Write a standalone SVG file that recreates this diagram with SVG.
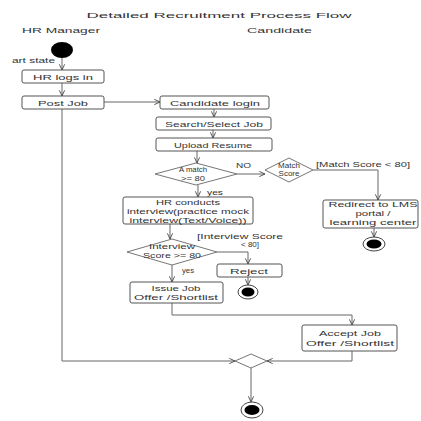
<svg xmlns="http://www.w3.org/2000/svg" width="421" height="421" viewBox="0 0 421 421">
<defs>
<marker id="arr" viewBox="0 0 8 8" refX="7.5" refY="4" markerWidth="7" markerHeight="7" orient="auto" markerUnits="userSpaceOnUse">
<path d="M1,1 L7.5,4 L1,7" fill="none" stroke="#444" stroke-width="1"/>
</marker>
</defs>
<style>
.box{fill:#fff;stroke:#555;stroke-width:1}
.dia{fill:#fff;stroke:#666;stroke-width:0.9}
.ln{fill:none;stroke:#666;stroke-width:1}
.t{font-family:"Liberation Sans",Arial,sans-serif;fill:#333;font-size:8px;text-anchor:middle}
.s{text-anchor:start}
.ring{fill:#fff;stroke:#444;stroke-width:1}
.dot{fill:#000}
</style>
<rect width="421" height="421" fill="#fff"/>
<text class="t" x="219" y="18" font-size="11" textLength="265" lengthAdjust="spacingAndGlyphs">Detailed Recruitment Process Flow</text>
<text class="t s" x="22" y="33" font-size="10" textLength="78" lengthAdjust="spacingAndGlyphs">HR Manager</text>
<text class="t s" x="247" y="33" font-size="9" fill="#555" textLength="65" lengthAdjust="spacingAndGlyphs">Candidate</text>

<g id="connectors">
<path class="ln" d="M62,58 V70" marker-end="url(#arr)"/>
<path class="ln" d="M62,83 V96" marker-end="url(#arr)"/>
<path class="ln" d="M104,102 H160" marker-end="url(#arr)"/>
<path class="ln" d="M62,109 V361 H235" marker-end="url(#arr)"/>
<path class="ln" d="M214,109 V117" marker-end="url(#arr)"/>
<path class="ln" d="M213,130 V138" marker-end="url(#arr)"/>
<path class="ln" d="M197,151 V163" marker-end="url(#arr)"/>
<path class="ln" d="M237,174 H265" marker-end="url(#arr)"/>
<path class="ln" d="M198,185 V197" marker-end="url(#arr)"/>
<path class="ln" d="M313,170 H378 V200" marker-end="url(#arr)"/>
<path class="ln" d="M374,228 V237" marker-end="url(#arr)"/>
<path class="ln" d="M170,224 V239" marker-end="url(#arr)"/>
<path class="ln" d="M217,252 H248 V264" marker-end="url(#arr)"/>
<path class="ln" d="M248,277 V285" marker-end="url(#arr)"/>
<path class="ln" d="M172,265 V282" marker-end="url(#arr)"/>
<path class="ln" d="M172,303 V315 H352 V325" marker-end="url(#arr)"/>
<path class="ln" d="M352,351 V361 H267" marker-end="url(#arr)"/>
<path class="ln" d="M251,368 V402" marker-end="url(#arr)"/>
</g>

<g id="start">
<ellipse class="dot" cx="62" cy="50" rx="11" ry="8"/>
<text class="t s" x="12" y="63" font-size="7.5" textLength="43" lengthAdjust="spacingAndGlyphs">art state</text>
</g>
<g id="hr-logs-in">
<rect class="box" x="22" y="70" width="82" height="13" rx="2"/>
<text class="t" x="63" y="80" textLength="60" lengthAdjust="spacingAndGlyphs">HR logs in</text>
</g>
<g id="post-job">
<rect class="box" x="22" y="96" width="82" height="13" rx="2"/>
<text class="t" x="63" y="106" textLength="50" lengthAdjust="spacingAndGlyphs">Post Job</text>
</g>
<g id="candidate-login">
<rect class="box" x="160" y="96" width="109" height="13" rx="2"/>
<text class="t" x="215" y="106" textLength="90" lengthAdjust="spacingAndGlyphs">Candidate login</text>
</g>
<g id="search-job">
<rect class="box" x="156" y="117" width="115" height="13" rx="2"/>
<text class="t" x="214" y="127" textLength="98" lengthAdjust="spacingAndGlyphs">Search/Select Job</text>
</g>
<g id="upload-resume">
<rect class="box" x="156" y="138" width="116" height="13" rx="2"/>
<text class="t" x="213" y="148" textLength="78" lengthAdjust="spacingAndGlyphs">Upload Resume</text>
</g>
<g id="match-decision">
<polygon class="dia" points="155,174 196,163 237,174 196,185"/>
<text class="t" x="193" y="172" font-size="7" textLength="28" lengthAdjust="spacingAndGlyphs">A match</text>
<text class="t" x="193" y="181" font-size="7" textLength="24" lengthAdjust="spacingAndGlyphs">&gt;= 80</text>
<text class="t s" x="236" y="168" textLength="15" lengthAdjust="spacingAndGlyphs">NO</text>
<text class="t s" x="207" y="195" textLength="16" lengthAdjust="spacingAndGlyphs">yes</text>
</g>
<g id="match-score">
<polygon class="dia" points="265,170 289,158 313,170 289,182"/>
<text class="t" x="289" y="168" font-size="6">Match</text>
<text class="t" x="289" y="176" font-size="6">Score</text>
<text class="t s" x="316" y="167" textLength="94" lengthAdjust="spacingAndGlyphs">[Match Score &lt; 80]</text>
</g>
<g id="redirect">
<rect class="box" x="323" y="200" width="95" height="28" rx="2"/>
<text class="t" x="373" y="207" textLength="89" lengthAdjust="spacingAndGlyphs">Redirect to LMS</text>
<text class="t" x="373" y="216" textLength="35" lengthAdjust="spacingAndGlyphs">portal /</text>
<text class="t" x="373" y="225" textLength="87" lengthAdjust="spacingAndGlyphs">learning center</text>
</g>
<g id="end-redirect">
<ellipse class="ring" cx="374" cy="244" rx="11" ry="7"/>
<ellipse class="dot" cx="374" cy="244" rx="7.5" ry="4.5"/>
</g>
<g id="hr-conducts">
<rect class="box" x="123" y="197" width="130" height="27" rx="2"/>
<text class="t" x="188" y="205" textLength="64" lengthAdjust="spacingAndGlyphs">HR conducts</text>
<text class="t" x="188" y="214" textLength="122" lengthAdjust="spacingAndGlyphs">interview(practice mock</text>
<text class="t" x="188" y="223" textLength="117" lengthAdjust="spacingAndGlyphs">interview(Text/Voice))</text>
</g>
<g id="interview-decision">
<polygon class="dia" points="127,252 172,239 217,252 172,265"/>
<text class="t" x="172" y="249" font-size="7.5" textLength="46" lengthAdjust="spacingAndGlyphs">Interview</text>
<text class="t" x="172" y="258" font-size="7.5" textLength="58" lengthAdjust="spacingAndGlyphs">Score &gt;= 80</text>
<text class="t s" x="197" y="239" textLength="86" lengthAdjust="spacingAndGlyphs">[Interview Score</text>
<text class="t" x="250" y="247" textLength="18" lengthAdjust="spacingAndGlyphs">&lt; 80]</text>
<text class="t s" x="182" y="273" textLength="12" lengthAdjust="spacingAndGlyphs">yes</text>
</g>
<g id="reject">
<rect class="box" x="217" y="264" width="65" height="13" rx="2"/>
<text class="t" x="249" y="274" textLength="38" lengthAdjust="spacingAndGlyphs">Reject</text>
</g>
<g id="end-reject">
<ellipse class="ring" cx="248" cy="292" rx="10" ry="7"/>
<ellipse class="dot" cx="248" cy="292" rx="6.5" ry="4.5"/>
</g>
<g id="issue-job">
<rect class="box" x="130" y="282" width="93" height="21" rx="2"/>
<text class="t" x="176" y="291" textLength="49" lengthAdjust="spacingAndGlyphs">Issue Job</text>
<text class="t" x="176" y="300" textLength="84" lengthAdjust="spacingAndGlyphs">Offer /Shortlist</text>
</g>
<g id="accept-job">
<rect class="box" x="302" y="325" width="95" height="26" rx="2"/>
<text class="t" x="350" y="336" textLength="62" lengthAdjust="spacingAndGlyphs">Accept Job</text>
<text class="t" x="350" y="346" textLength="88" lengthAdjust="spacingAndGlyphs">Offer /Shortlist</text>
</g>
<g id="merge">
<polygon class="dia" points="235,361 251,354 267,361 251,368"/>
</g>
<g id="end-final">
<ellipse class="ring" cx="252" cy="410" rx="11" ry="8"/>
<ellipse class="dot" cx="252" cy="410" rx="7.5" ry="5"/>
</g>
</svg>
